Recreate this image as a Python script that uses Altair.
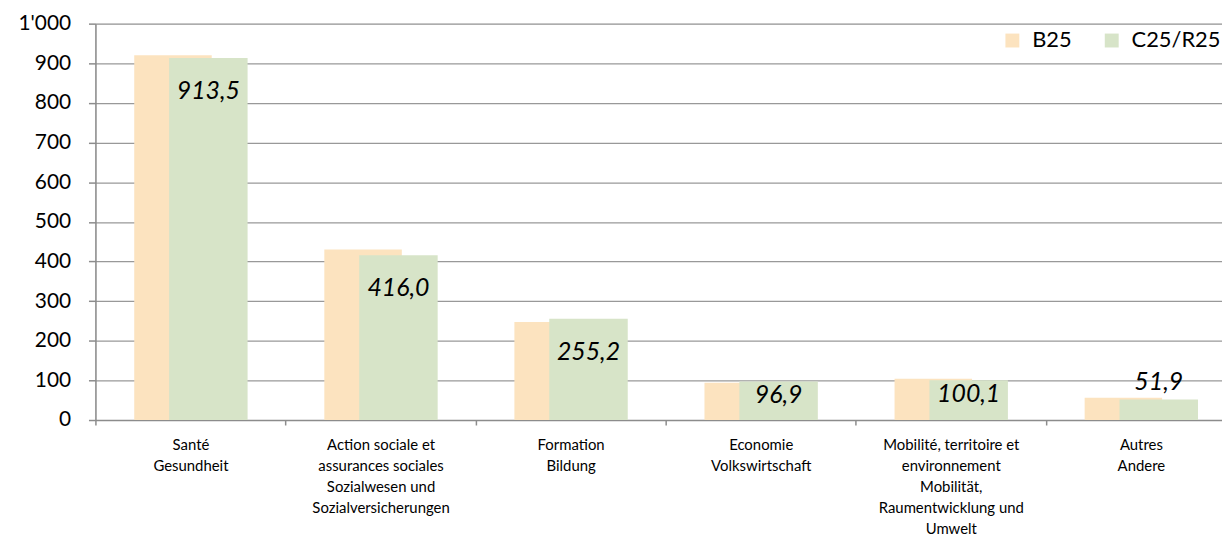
import altair as alt
import pandas as pd

# ---- data -------------------------------------------------------------
categories = [
    "Santé|Gesundheit",
    "Action sociale et|assurances sociales|Sozialwesen und|Sozialversicherungen",
    "Formation|Bildung",
    "Economie|Volkswirtschaft",
    "Mobilité, territoire et|environnement|Mobilität,|Raumentwicklung und|Umwelt",
    "Autres|Andere",
]
series_names = ["B25", "C25/R25"]
b25_values = [920.0, 430.0, 247.0, 94.0, 104.0, 56.0]
c25_values = [913.5, 416.0, 255.2, 96.9, 100.1, 51.9]
y_tick_values = [0, 100, 200, 300, 400, 500, 600, 700, 800, 900, 1000]
series_colors = ["#FCE3BF", "#D7E4C8"]

rows = []
for cat, v in zip(categories, b25_values):
    rows.append({"category": cat, "series": series_names[0], "value": v})
for cat, v in zip(categories, c25_values):
    rows.append({"category": cat, "series": series_names[1], "value": v})
df = pd.DataFrame(rows)

FONT = "Lato"
AXIS_GRAY = "#8C8C8C"
GRID_GRAY = "#999999"

x_scale = alt.Scale(range=[0, 1148], paddingInner=0, paddingOuter=0)
x_axis = alt.Axis(
    title=None,
    labelExpr="split(datum.label, '|')",
    labelAngle=0,
    labelFont=FONT,
    labelFontSize=15,
    labelLineHeight=21,
    labelColor="#000000",
    labelPadding=13,
    labelBaseline="top",
    labelLimit=400,
    labelOverlap=False,
    labelBound=False,
    tickBand="extent",
    tickSize=5,
    tickWidth=1.5,
    tickColor=AXIS_GRAY,
    domainColor=AXIS_GRAY,
    domainWidth=1.5,
    grid=False,
)

y_scale = alt.Scale(domain=[0, 1000], nice=False)
y_axis = alt.Axis(
    title=None,
    values=y_tick_values,
    labelExpr="replace(format(datum.value, ','), ',', \"'\")",
    labelFont=FONT,
    labelFontSize=21,
    labelColor="#000000",
    labelPadding=18,
    labelOverlap=False,
    labelBound=False,
    labelFlush=False,
    tickSize=7,
    tickWidth=1.5,
    tickColor=AXIS_GRAY,
    domainColor=AXIS_GRAY,
    domainWidth=1.5,
    grid=True,
    gridColor=GRID_GRAY,
    gridWidth=1.2,
)

x_enc = alt.X("category:N", sort=categories, scale=x_scale, axis=x_axis)
y_enc = alt.Y("value:Q", scale=y_scale, axis=y_axis, title=None)

color_enc = alt.Color(
    "series:N",
    scale=alt.Scale(domain=series_names, range=series_colors),
    legend=alt.Legend(
        title=None,
        orient="none",
        direction="horizontal",
        legendX=912,
        legendY=6,
        symbolType="square",
        symbolSize=196,
        symbolStrokeWidth=0,
        symbolOpacity=1,
        labelFont=FONT,
        labelFontSize=22,
        labelColor="#000000",
        labelOffset=9,
        columnPadding=29,
        padding=0,
    ),
)

base = alt.Chart(df)

bars_b = base.transform_filter(alt.datum.series == series_names[0]).mark_bar(
    width=78, xOffset=-17.6
).encode(x=x_enc, y=y_enc, color=color_enc)

bars_c = base.transform_filter(alt.datum.series == series_names[1]).mark_bar(
    width=79, xOffset=18
).encode(x=x_enc, y=y_enc, color=color_enc)

labels = (
    base.transform_filter(alt.datum.series == series_names[1])
    .transform_calculate(
        label="replace(format(datum.value, '.1f'), '.', ',')",
        label_y="datum.value > 200 ? datum.value - 83 : (datum.value > 80 ? datum.value - 35 : datum.value + 45)",
    )
    .mark_text(
        xOffset=18,
        font=FONT,
        fontStyle="italic",
        fontSize=25,
        baseline="middle",
        align="center",
        color="#000000",
    )
    .encode(
        x=alt.X("category:N", sort=categories, scale=x_scale, axis=x_axis),
        y=alt.Y("label_y:Q", scale=y_scale, axis=y_axis, title=None),
        text="label:N",
    )
)

chart = (
    alt.layer(bars_b, bars_c, labels)
    .properties(
        width=1134,
        height=399,
        autosize=alt.AutoSizeParams(type="none"),
        padding={"left": 88, "top": 14, "right": 0, "bottom": 115},
    )
    .configure_view(stroke=None)
    .configure(background="#FFFFFF")
)

chart.save("out.html", embed_options={"renderer": "svg", "actions": False})
